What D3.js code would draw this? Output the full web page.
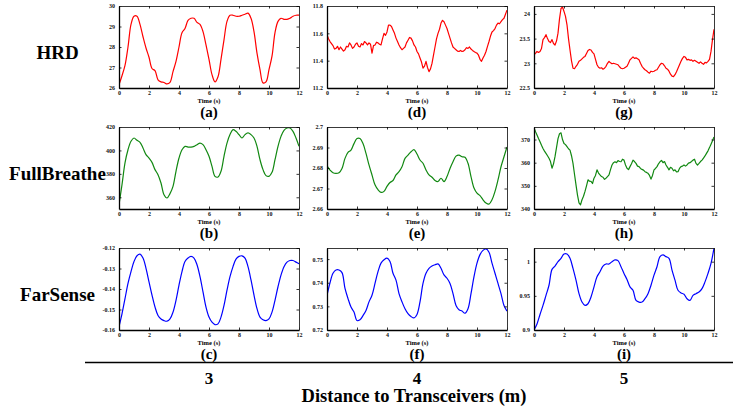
<!DOCTYPE html>
<html><head><meta charset="utf-8">
<script src="https://cdn.jsdelivr.net/npm/d3@7"></script>
<style>
body{margin:0;background:#fff}
svg{display:block}
text{font-family:"Liberation Serif","Times New Roman",serif}
</style>
</head><body>
<svg id="chart" width="733" height="408"></svg>
<script>
// ---------------- data ----------------
const methods = ["HRD", "FullBreathe", "FarSense"];
const distances = ["3", "4", "5"];
const panelLabels = [["(a)", "(d)", "(g)"], ["(b)", "(e)", "(h)"], ["(c)", "(f)", "(i)"]];
const xTicks = [0, 2, 4, 6, 8, 10, 12];
const xTitle = "Time (s)";
const bottomTitle = "Distance to Transceivers (m)";
const colors = ["#ff0000", "#118811", "#0000ff"];

// HRD, 3 m (sampled every 0.2 s)
const hrd3 = [26.16,26.6,27.1,28.0,29.1,29.5,29.5,29.1,28.5,27.95,27.5,26.95,26.85,26.4,26.3,26.27,26.2,26.27,26.8,27.3,28.0,28.7,28.9,29.3,29.4,29.4,29.2,29.1,28.75,28.1,27.4,26.65,26.3,26.55,27.4,28.35,29.25,29.55,29.55,29.5,29.5,29.55,29.6,29.65,29.4,28.75,27.7,26.9,26.25,26.3,26.9,27.55,28.7,29.25,29.4,29.35,29.35,29.4,29.5,29.55,29.55];
// HRD, 4 m (every 0.1 s)
const hrd4 = [11.589,11.560,11.540,11.525,11.510,11.485,11.490,11.505,11.480,11.500,11.485,11.470,11.480,11.505,11.500,11.530,11.515,11.490,11.500,11.520,11.530,11.505,11.500,11.525,11.515,11.540,11.530,11.515,11.530,11.520,11.455,11.510,11.515,11.535,11.530,11.520,11.515,11.560,11.600,11.585,11.610,11.660,11.660,11.650,11.625,11.600,11.565,11.540,11.515,11.495,11.480,11.490,11.500,11.530,11.550,11.570,11.565,11.545,11.515,11.500,11.467,11.450,11.420,11.390,11.345,11.360,11.395,11.350,11.320,11.340,11.380,11.440,11.500,11.560,11.600,11.630,11.675,11.695,11.685,11.660,11.635,11.600,11.565,11.530,11.500,11.490,11.480,11.470,11.467,11.475,11.467,11.470,11.480,11.495,11.490,11.500,11.485,11.475,11.467,11.460,11.455,11.440,11.410,11.395,11.420,11.440,11.467,11.505,11.540,11.580,11.610,11.620,11.635,11.660,11.675,11.670,11.685,11.700,11.710,11.740,11.770];
// HRD, 5 m (every 0.1 s)
const hrd5 = [23.17,23.20,23.24,23.22,23.24,23.30,23.48,23.52,23.58,23.50,23.44,23.42,23.48,23.40,23.37,23.45,23.61,23.90,24.11,24.14,24.05,23.95,23.78,23.50,23.27,23.05,22.90,22.89,22.94,22.98,23.04,23.06,23.09,23.12,23.14,23.20,23.26,23.28,23.27,23.22,23.19,23.08,22.97,22.92,22.90,22.91,22.88,22.90,22.94,23.00,23.04,23.01,22.99,23.00,22.99,22.98,22.97,22.93,22.90,22.89,22.90,22.92,22.94,23.00,23.07,23.10,23.13,23.10,23.11,23.09,23.07,23.00,22.94,22.90,22.87,22.85,22.82,22.80,22.84,22.83,22.84,22.86,22.87,22.92,22.97,23.00,22.99,22.95,22.90,22.88,22.84,22.78,22.74,22.73,22.77,22.83,22.90,22.97,23.04,23.10,23.14,23.12,23.07,23.08,23.06,23.07,23.04,23.06,23.04,23.02,23.00,23.03,23.00,22.98,23.02,23.01,23.04,23.08,23.24,23.48,23.69];
// FullBreathe, 3 m (every 0.2 s)
const fb3 = [353.7,370.8,389.3,400.6,407.8,410.6,408.6,406.9,402.1,396.4,393.5,389.8,383.6,379.3,372.2,362.2,359.4,363.1,369.3,382.2,393.5,400.6,403.5,402.9,402.9,403.5,404.9,406.3,404.9,400.6,395.0,386.4,377.9,377.3,382.2,395.0,406.3,413.5,417.7,416.3,413.5,410.6,413.5,414.9,413.5,410.6,403.5,392.1,383.6,378.5,377.9,381.3,392.1,403.5,412.0,417.2,419.1,419.1,416.3,410.6,403.5];
// FullBreathe, 4 m (every 0.2 s)
const fb4 = [2.6810,2.6790,2.6777,2.6774,2.6777,2.6798,2.6847,2.6876,2.6887,2.6919,2.6944,2.6944,2.6919,2.6871,2.6815,2.6766,2.6718,2.6694,2.6681,2.6686,2.6710,2.6729,2.6739,2.6766,2.6782,2.6806,2.6847,2.6863,2.6879,2.6890,2.6868,2.6839,2.6823,2.6790,2.6766,2.6755,2.6739,2.6734,2.6750,2.6734,2.6758,2.6798,2.6831,2.6858,2.6863,2.6855,2.6852,2.6823,2.6758,2.6702,2.6677,2.6665,2.6645,2.6629,2.6624,2.6645,2.6686,2.6742,2.6806,2.6855,2.6903];
// FullBreathe, 5 m (every 0.1 s)
const fb5 = [375.1,373.4,371.9,370.4,369.0,367.5,366.1,365.0,364.0,363.0,361.9,360.5,357.6,359.5,362.6,366.5,370.4,372.5,372.9,370.0,368.3,367.8,366.9,366.0,365.4,363.0,359.7,355.0,350.4,346.0,342.6,341.8,344.0,345.5,347.6,350.0,352.6,352.0,351.9,351.0,353.3,354.5,356.9,355.5,354.7,354.0,353.7,352.8,353.3,354.0,354.7,357.0,359.0,360.0,360.4,360.0,360.9,360.5,360.4,361.5,361.1,359.0,357.6,357.0,358.3,359.5,361.1,360.5,359.7,358.5,358.3,357.5,357.1,356.8,356.1,355.8,355.4,354.5,352.9,354.5,356.9,357.5,358.3,359.5,360.4,361.0,360.0,360.5,359.0,358.0,356.9,358.0,357.6,356.5,356.9,356.0,356.1,357.5,358.3,358.5,359.0,358.5,359.0,359.8,360.0,360.5,361.1,361.5,359.7,359.0,359.7,360.5,361.1,362.0,362.9,364.0,365.1,366.5,368.0,369.5,371.1];
// FarSense, 3 m (every 0.2 s)
const fs3 = [-0.1584,-0.1521,-0.1447,-0.1373,-0.1315,-0.1266,-0.1238,-0.1230,-0.1249,-0.1299,-0.1365,-0.1430,-0.1488,-0.1529,-0.1546,-0.1554,-0.1557,-0.1546,-0.1513,-0.1455,-0.1381,-0.1315,-0.1266,-0.1249,-0.1241,-0.1249,-0.1282,-0.1340,-0.1414,-0.1488,-0.1537,-0.1562,-0.1574,-0.1570,-0.1537,-0.1480,-0.1406,-0.1340,-0.1291,-0.1254,-0.1241,-0.1238,-0.1249,-0.1291,-0.1356,-0.1430,-0.1496,-0.1537,-0.1550,-0.1554,-0.1546,-0.1513,-0.1455,-0.1389,-0.1332,-0.1291,-0.1269,-0.1261,-0.1261,-0.1269,-0.1277];
// FarSense, 4 m (every 0.2 s)
const fs4 = [0.7347,0.7400,0.7440,0.7454,0.7454,0.7443,0.7376,0.7333,0.7297,0.7276,0.7240,0.7243,0.7261,0.7283,0.7319,0.7347,0.7397,0.7447,0.7483,0.7497,0.7504,0.7490,0.7440,0.7411,0.7354,0.7319,0.7290,0.7269,0.7257,0.7251,0.7266,0.7319,0.7397,0.7440,0.7461,0.7471,0.7476,0.7480,0.7461,0.7433,0.7419,0.7397,0.7354,0.7304,0.7286,0.7280,0.7271,0.7290,0.7354,0.7426,0.7483,0.7519,0.7537,0.7543,0.7529,0.7483,0.7440,0.7397,0.7354,0.7304,0.7280];
// FarSense, 5 m (every 0.2 s)
const fs5 = [0.9000,0.9089,0.9227,0.9360,0.9507,0.9655,0.9887,0.9936,1.0000,1.0049,1.0113,1.0113,1.0049,0.9901,0.9729,0.9532,0.9409,0.9360,0.9384,0.9483,0.9631,0.9778,0.9852,0.9936,0.9966,0.9966,1.0000,1.0025,1.0015,0.9926,0.9828,0.9739,0.9631,0.9581,0.9433,0.9409,0.9409,0.9458,0.9532,0.9655,0.9803,0.9926,1.0074,1.0099,1.0074,1.0049,0.9877,0.9729,0.9581,0.9542,0.9522,0.9458,0.9433,0.9507,0.9532,0.9557,0.9606,0.9704,0.9828,0.9975,1.0197];

const series = [[hrd3, hrd4, hrd5], [fb3, fb4, fb5], [fs3, fs4, fs5]];
const yDomains = [
  [[26, 30], [11.2, 11.8], [22.5, 24.16]],
  [[350, 420], [2.66, 2.70], [340, 375.4]],
  [[-0.16, -0.12], [0.72, 0.7547], [0.9, 1.02]]
];
const yTicks = [
  [[26, 27, 28, 29, 30], [11.2, 11.4, 11.6, 11.8], [22.5, 23, 23.5, 24]],
  [[360, 380, 400, 420], [2.66, 2.67, 2.68, 2.69, 2.7], [340, 350, 360, 370]],
  [[-0.16, -0.15, -0.14, -0.13, -0.12], [0.72, 0.73, 0.74, 0.75], [0.9, 0.95, 1]]
];

// ---------------- layout ----------------
const colX = [[119, 299], [327, 507], [534, 714]];
const rowY = [[6, 88], [127, 209], [248, 330]];
const svg = d3.select("#chart");

for (let r = 0; r < 3; r++) {
  for (let c = 0; c < 3; c++) {
    const vals = series[r][c];
    const step = 12 / (vals.length - 1);
    const x = d3.scaleLinear().domain([0, 12]).range(colX[c]);
    const y = d3.scaleLinear().domain(yDomains[r][c]).range([rowY[r][1], rowY[r][0]]);
    const g = svg.append("g");

    const cid = "clip" + r + c;
    svg.append("clipPath").attr("id", cid).append("rect")
      .attr("x", colX[c][0]).attr("y", rowY[r][0])
      .attr("width", colX[c][1] - colX[c][0]).attr("height", rowY[r][1] - rowY[r][0]);

    const line = d3.line().x((d, i) => x(i * step)).y(d => y(d))
      .curve(vals.length > 80 ? d3.curveLinear : d3.curveCatmullRom.alpha(0.5));
    g.append("path").datum(vals).attr("d", line)
      .attr("clip-path", "url(#" + cid + ")")
      .attr("fill", "none").attr("stroke", colors[r]).attr("stroke-width", 1.2)
      .attr("stroke-linejoin", "round");

    const ax = g.append("g").attr("transform", `translate(0,${rowY[r][1]})`)
      .call(d3.axisBottom(x).tickValues(xTicks).tickSizeInner(-2.5).tickSizeOuter(0).tickPadding(4));
    const ay = g.append("g").attr("transform", `translate(${colX[c][0]},0)`)
      .call(d3.axisLeft(y).tickValues(yTicks[r][c]).tickFormat(d => String(d)).tickSizeInner(-2.5).tickSizeOuter(0).tickPadding(4));
    g.append("g").attr("transform", `translate(0,${rowY[r][0]})`)
      .call(d3.axisTop(x).tickValues(xTicks).tickSizeInner(-2.5).tickSizeOuter(0).tickFormat(""));
    g.append("g").attr("transform", `translate(${colX[c][1]},0)`)
      .call(d3.axisRight(y).tickValues(yTicks[r][c]).tickSizeInner(-2.5).tickSizeOuter(0).tickFormat(""));
    g.selectAll(".domain").attr("stroke", "#222").attr("stroke-width", 0.9);
    ax.select(".domain").attr("stroke", "#000").attr("stroke-width", 1.3);
    ay.select(".domain").attr("stroke", "#000").attr("stroke-width", 1.3);
    g.selectAll(".tick line").attr("stroke", "#000").attr("stroke-width", 0.8);
    g.selectAll(".tick text").attr("font-family", "Liberation Serif").attr("font-size", 6)
      .attr("font-weight", "bold").attr("fill", "#111");
    ax.selectAll(".tick text").attr("dy", "0.55em");

    g.append("text").attr("x", (colX[c][0] + colX[c][1]) / 2).attr("y", rowY[r][1] + 14.5)
      .attr("text-anchor", "middle").attr("font-size", 6.5).attr("font-weight", "bold").text(xTitle);
    g.append("text").attr("x", (colX[c][0] + colX[c][1]) / 2).attr("y", rowY[r][1] + 28.5)
      .attr("text-anchor", "middle").attr("font-size", 15).attr("font-weight", "bold").text(panelLabels[r][c]);
  }
  svg.append("text").attr("x", 57.5).attr("y", rowY[r][0] + 52.5)
    .attr("text-anchor", "middle").attr("font-size", 19).attr("font-weight", "bold").text(methods[r]);
}

svg.append("line").attr("x1", 85).attr("x2", 733).attr("y1", 362.5).attr("y2", 362.5)
  .attr("stroke", "#000").attr("stroke-width", 1.3);
distances.forEach((d, c) => {
  svg.append("text").attr("x", (colX[c][0] + colX[c][1]) / 2).attr("y", 383.5)
    .attr("text-anchor", "middle").attr("font-size", 17).attr("font-weight", "bold").text(d);
});
svg.append("text").attr("x", 414).attr("y", 402)
  .attr("text-anchor", "middle").attr("font-size", 18.5).attr("font-weight", "bold").text(bottomTitle);
</script>
</body></html>
